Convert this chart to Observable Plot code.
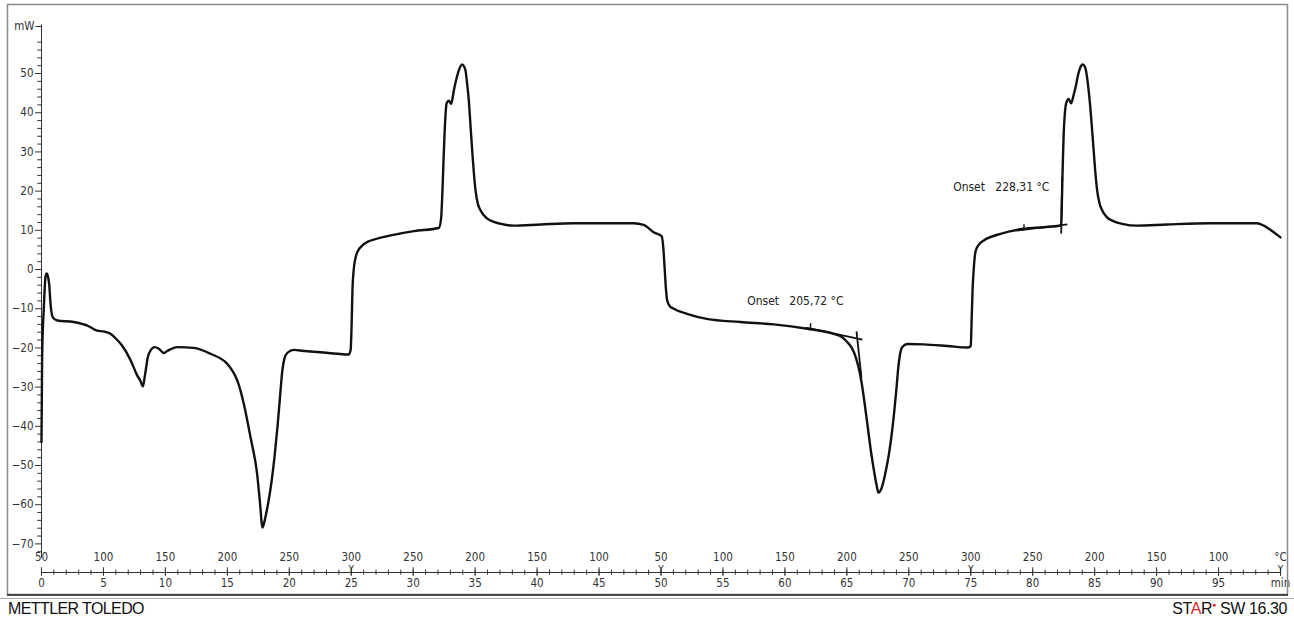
<!DOCTYPE html>
<html><head><meta charset="utf-8">
<script src="https://cdn.jsdelivr.net/npm/d3@7"></script>
<script src="https://cdn.jsdelivr.net/npm/@observablehq/plot@0.6"></script>
<style>
html,body{margin:0;padding:0;background:#fff;overflow:hidden;width:1294px;height:618px;}
#chart svg{display:block;}
#chart svg text{white-space:pre;}
#footer{position:relative;width:1294px;height:18px;font-family:"Liberation Sans",Arial,sans-serif;color:#111;}
#footer .left{position:absolute;left:8px;top:0px;font-size:16px;letter-spacing:-0.6px;}
#footer .right{position:absolute;right:7px;top:0px;font-size:16px;letter-spacing:-0.4px;}
#footer .red{color:#d4232b;}
#footer sup{font-size:7px;vertical-align:7px;color:#d4232b;}
</style></head><body>
<div id="chart"></div>
<div id="footer"><span class="left">METTLER TOLEDO</span><span class="right">ST<span class="red">A</span>R<sup>●</sup> SW 16.30</span></div>
<script>
// ---- data (time in min, heat flow in mW) ----
const timeMin = [
  0, 0.05, 0.19, 0.32, 0.42, 0.52, 0.62, 0.73, 0.91, 1.27, 2.6, 3.4, 3.7, 4.5, 5.0, 5.57, 6.0, 6.5, 7.2, 7.72, 8.0, 8.18, 8.35, 8.58, 8.85, 9.12, 9.47, 9.87, 10.2, 10.95, 12.3, 13.64, 15.0, 15.5, 15.8, 16.33, 16.87, 17.4, 17.62, 17.84, 18.05, 18.3, 18.55, 18.8, 19.05, 19.25, 19.43, 19.6, 19.83, 20.36, 21.17, 22.5, 23.87, 24.8, 24.95, 25.03, 25.1, 25.2, 25.34, 25.55, 25.75, 26.4, 26.8, 28.2, 30.05, 32.07,
  32.25, 32.34, 32.45, 32.53, 32.62, 32.69, 32.87, 33.0, 33.07, 33.28, 33.5, 33.68, 33.95, 34.1, 34.22, 34.35, 34.49, 34.62, 34.76, 34.9, 35.03, 35.2, 35.43, 35.8, 36.24, 37.0, 38.1, 40.3, 43.0, 45.7, 47.8, 48.6, 49.4, 50.05, 50.2, 50.3, 50.4, 50.5, 50.7, 51.03, 52.1, 53.7, 56.4, 59.1, 61.8, 63.95, 64.6, 65.03, 65.4, 65.7, 65.95, 66.2, 66.45, 66.7, 66.95, 67.2, 67.4, 67.55, 67.8, 68.0, 68.2, 68.4, 68.6, 68.8, 69.0, 69.15, 69.3, 69.47, 69.87, 71.2, 73.1, 74.8, 75.0, 75.08, 75.15, 75.25, 75.4, 75.7, 76.05, 77.4, 79.3, 80.9, 82.3,
  82.36, 82.42, 82.5, 82.6, 82.73, 82.9, 83.1, 83.3, 83.46, 83.65, 83.8, 84.05, 84.2, 84.3, 84.45, 84.6, 84.76, 84.92, 85.05, 85.2, 85.4, 85.6, 86.0, 86.54, 87.3, 88.4, 90.85, 94.35, 97.0, 98.1, 98.65, 99.45, 100.0
];
const heatFlow = [
  -44, -22.4, -9.6, -2.0, -1.0, -1.8, -3.7, -8.8, -12.2, -13.0, -13.4, -14.0, -14.3, -15.6, -15.8, -16.4, -17.6, -19.4, -23.2, -27.0, -28.5, -29.8, -27.0, -22.4, -20.4, -19.8, -20.2, -21.3, -20.7, -19.8, -20.0, -21.5, -24.1, -26.3, -28.3, -34.3, -42.8, -52.1, -59.0, -65.8, -63.5, -59.5, -54.5, -48.0, -40.0, -32.5, -26.0, -22.8, -21.3, -20.5, -20.8, -21.1, -21.5, -21.7, -20.5, -14.0, -5.0, 0.0, 2.9, 4.8, 5.7, 7.2, 7.6, 8.7, 9.8, 10.6,
  13.0, 18.4, 28.0, 34.6, 40.0, 42.3, 43.1, 42.5, 42.3, 45.7, 48.8, 50.8, 52.3, 51.8, 50.8, 47.5, 43.1, 37.0, 30.4, 24.5, 20.2, 17.0, 15.1, 13.5, 12.5, 11.7, 11.2, 11.5, 11.8, 11.8, 11.8, 11.4, 9.5, 8.5, 5.0, 0.0, -5.0, -7.9, -9.3, -10.0, -11.3, -12.6, -13.4, -14.0, -15.1, -16.4, -17.2, -18.5, -20.0, -22.2, -25.0, -29.0, -34.5, -40.5, -46.5, -51.5, -55.0, -56.9, -55.8, -53.5, -50.5, -47.0, -42.5, -37.0, -30.5, -25.0, -21.5, -19.8, -19.0, -19.1, -19.5, -19.9, -19.5, -12.0, -5.0, 0.5, 4.8, 6.5, 7.4, 9.1, 10.4, 10.8, 11.2,
  18.0, 26.0, 34.6, 40.0, 42.7, 43.5, 42.4, 44.5, 46.5, 49.5, 51.2, 52.3, 51.8, 50.8, 47.5, 43.1, 37.0, 30.4, 25.0, 20.2, 16.8, 15.1, 13.3, 12.3, 11.6, 11.2, 11.5, 11.8, 11.8, 11.8, 11.2, 9.5, 8.2
];

// y axis ticks (mW)
const yTicks = [-70, -60, -50, -40, -30, -20, -10, 0, 10, 20, 30, 40, 50];
const yUnit = "mW";
// bottom axis: time ticks, time labels, temperature labels
const timeTicks = [0, 5, 10, 15, 20, 25, 30, 35, 40, 45, 50, 55, 60, 65, 70, 75, 80, 85, 90, 95, 100];
const timeLabels = ["0","5","10","15","20","25","30","35","40","45","50","55","60","65","70","75","80","85","90","95","min"];
const tempLabels = ["50","100","150","200","250","300","250","200","150","100","50","100","150","200","250","300","250","200","150","100","°C"];
const segmentEnds = [25, 50, 75, 100];

// onset evaluations
const onsetLabels = ["Onset   205,72 °C", "Onset   228,31 °C"];
const onsetLabelT = [56.96, 73.58];
const onsetLabelV = [-8.2, 21.0];
const tangentT1 = [61.7, 65.78, 78.7, 82.3];
const tangentV1 = [-14.8, -15.8, 9.9, 9.2];
const tangentT2 = [66.26, 66.18, 82.8, 82.38];
const tangentV2 = [-17.9, -27.6, 11.5, 23.5];
const evalMarkT = [62.07, 79.3];
const evalMarkV = [-15.1, 10.1];

// ---- build ----
const curve = timeMin.map((t, i) => ({t, v: heatFlow[i]}));
const tangents = tangentT1.map((t, i) => ({t1: t, v1: tangentV1[i], t2: tangentT2[i], v2: tangentV2[i]}));
const onsets = onsetLabels.map((label, i) => ({label, t: onsetLabelT[i], v: onsetLabelV[i]}));
const evalMarks = evalMarkT.map((t, i) => ({t, v: evalMarkV[i]}));
const minuteTicks = d3.range(0, 101);
const yMinor = d3.range(-72, 62, 2).filter(d => d % 10 !== 0);

const yMin = -77.3, yMax = 62.0, yAxisLow = -73.7;
const ink = "#333";

const chart = Plot.plot({
  width: 1294, height: 600,
  marginLeft: 41, marginRight: 14, marginTop: 26, marginBottom: 28,
  x: {domain: [0, 100], axis: null},
  y: {domain: [yMin, yMax], axis: null},
  style: {fontFamily: "'DejaVu Sans Condensed', 'DejaVu Sans', sans-serif", fontSize: "11px", color: ink, background: "#fff", overflow: "visible"},
  marks: [
    // y axis
    Plot.ruleX([0], {y1: () => yAxisLow, y2: () => yMax + 0.4, stroke: ink}),
    Plot.ruleY(yMinor, {x1: () => -0.3, x2: () => 0.08, stroke: ink}),
    Plot.ruleY([yMax], {x1: () => -0.45, x2: () => 0, stroke: ink}),
    Plot.axisY(yTicks, {anchor: "left", tickSize: 6, tickPadding: 2, label: null, fontSize: 11.5}),
    Plot.text([yUnit], {x: () => 0, y: () => yMax, text: d => d, textAnchor: "end", dx: -7, fontSize: 11.5}),
    // bottom (time / temperature) axis
    Plot.ruleY([yMin], {x1: () => 0, x2: () => 100, stroke: ink}),
    Plot.ruleX(minuteTicks, {y1: () => yMin - 0.7, y2: () => yMin + 0.6, stroke: ink}),
    Plot.ruleX(timeTicks, {y1: () => yMin - 1.0, y2: () => yMin + 1.2, stroke: ink}),
    Plot.text(segmentEnds, {x: d => d, text: () => "Y", frameAnchor: "bottom", fontSize: 10, dy: 0}),
    Plot.text(timeTicks, {x: d => d, text: (d, i) => tempLabels[i], frameAnchor: "bottom", dy: -12, fontSize: 11.5}),
    Plot.text(timeTicks, {x: d => d, text: (d, i) => timeLabels[i], frameAnchor: "bottom", dy: 14, fontSize: 11.5}),
    // curve
    Plot.line(curve, {x: "t", y: "v", stroke: "#111", strokeWidth: 2.4, curve: "monotone-x"}),
    // onset construction
    Plot.link(tangents, {x1: "t1", y1: "v1", x2: "t2", y2: "v2", stroke: "#111", strokeWidth: 1.8}),
    Plot.ruleX(evalMarks, {x: "t", y1: d => d.v - 0.2, y2: d => d.v + 1.3, stroke: "#111", strokeWidth: 1.4}),
    Plot.text(onsets, {x: "t", y: "v", text: "label", textAnchor: "start", fontSize: 12, fill: "#222"})
  ]
});
document.getElementById("chart").appendChild(chart);

// outer instrument frame
const svg = d3.select(chart);
svg.append("rect").attr("x", 7.5).attr("y", 4.5).attr("width", 1280).attr("height", 590)
  .attr("fill", "none").attr("stroke", "#8a8a8a").attr("stroke-width", 1.5);
svg.append("line").attr("x1", 7).attr("x2", 1288).attr("y1", 595).attr("y2", 595).attr("stroke", "#222").attr("stroke-width", 1.6);
svg.append("line").attr("x1", 0).attr("x2", 1294).attr("y1", 598.5).attr("y2", 598.5).attr("stroke", "#aaa").attr("stroke-width", 1);
</script>
</body></html>
